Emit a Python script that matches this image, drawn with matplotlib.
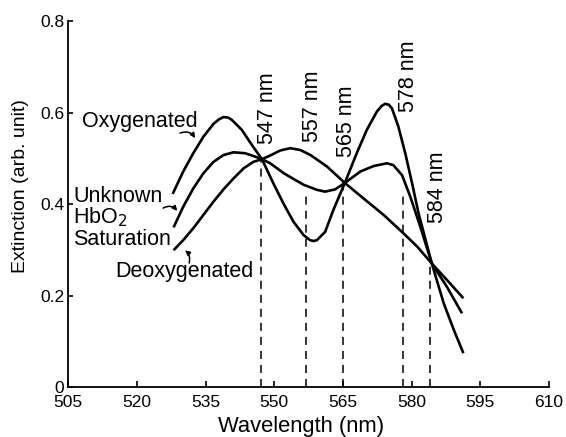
import matplotlib
matplotlib.use("Agg")
import matplotlib.pyplot as plt

plt.rcParams["font.family"] = ["Liberation Sans", "DejaVu Sans"]
plt.rcParams["lines.scale_dashes"] = False

# Absorption spectra of haemoglobin (extinction, arbitrary units)
wl_oxy = [527.8, 530.1, 532.3, 534.5, 536.7, 537.9, 538.9, 539.9, 540.7, 542.9,
          545.1, 547.3, 549.8, 552.0, 554.2, 556.4, 557.8, 558.6, 559.3, 561.1,
          562.9, 565.4, 568.0, 570.2, 572.4, 573.4, 574.2, 575.0, 575.7, 577.1,
          578.6, 580.1, 581.5, 584.4, 587.0, 589.2, 591.3]
ext_oxy = [0.422, 0.471, 0.511, 0.547, 0.575, 0.585, 0.590, 0.589, 0.584, 0.562,
           0.529, 0.498, 0.445, 0.401, 0.361, 0.332, 0.321, 0.319, 0.321, 0.339,
           0.387, 0.446, 0.511, 0.562, 0.602, 0.614, 0.619, 0.617, 0.609, 0.569,
           0.511, 0.445, 0.380, 0.270, 0.183, 0.125, 0.074]

wl_mix = [528.0, 530.1, 532.3, 534.5, 536.7, 538.9, 541.1, 543.6, 545.4, 547.3,
          549.1, 552.1, 556.4, 559.3, 561.1, 563.3, 565.4, 568.8, 571.7, 574.6,
          576.0, 577.9, 579.7, 581.9, 584.4, 587.7, 591.0]
ext_mix = [0.349, 0.394, 0.434, 0.467, 0.492, 0.507, 0.513, 0.511, 0.505, 0.498,
           0.489, 0.467, 0.442, 0.431, 0.427, 0.432, 0.446, 0.471, 0.483, 0.489,
           0.485, 0.463, 0.416, 0.350, 0.270, 0.219, 0.161]

wl_deoxy = [528.0, 530.1, 532.3, 534.5, 536.7, 538.9, 541.1, 543.3, 545.4, 547.3,
            549.1, 551.3, 553.5, 555.7, 557.9, 561.5, 565.4, 569.5, 573.9, 578.2,
            581.2, 584.4, 587.7, 591.3]
ext_deoxy = [0.299, 0.321, 0.347, 0.376, 0.405, 0.432, 0.456, 0.478, 0.492, 0.498,
             0.506, 0.517, 0.522, 0.518, 0.507, 0.482, 0.446, 0.412, 0.376, 0.336,
             0.307, 0.270, 0.234, 0.194]

# Marked wavelengths and the height where each guide line starts
marker_wl = [547, 557, 565, 578, 584]
marker_top = [0.497, 0.427, 0.446, 0.424, 0.270]
marker_labels = ["547 nm", "557 nm", "565 nm", "578 nm", "584 nm"]
marker_label_pos = [(549.8, 0.532), (559.6, 0.536), (566.9, 0.503),
                    (580.6, 0.602), (586.8, 0.358)]

x_ticks = [505, 520, 535, 550, 565, 580, 595, 610]
y_ticks = [0, 0.2, 0.4, 0.6, 0.8]
y_tick_labels = ["0", "0.2", "0.4", "0.6", "0.8"]

W, H = 566, 437
fig = plt.figure(figsize=(W / 100, H / 100), dpi=100)
ax = fig.add_axes([68.3 / W, 1 - 387 / H, (549 - 68.3) / W, (387 - 21) / H])

for wl, ext in [(wl_oxy, ext_oxy), (wl_mix, ext_mix), (wl_deoxy, ext_deoxy)]:
    ax.plot(wl, ext, color="black", lw=1.9, solid_joinstyle="round",
            solid_capstyle="butt")

for x, top in zip(marker_wl, marker_top):
    ax.plot([x, x], [0, top], color="black", lw=1.1, dashes=(5.8, 4.3))

for lab, (x, y) in zip(marker_labels, marker_label_pos):
    ax.text(x, y, lab, rotation=90, rotation_mode="anchor", ha="left",
            va="baseline", fontsize=15.5)

# Curve names
ax.text(508.0, 0.568, "Oxygenated", fontsize=15.5, ha="left", va="baseline")
ax.text(506.0, 0.404, "Unknown", fontsize=15.5, ha="left", va="baseline")
ax.text(506.0, 0.358, "HbO$_2$", fontsize=15.5, ha="left", va="baseline")
ax.text(506.0, 0.310, "Saturation", fontsize=15.5, ha="left", va="baseline")
ax.text(515.2, 0.240, "Deoxygenated", fontsize=15.5, ha="left", va="baseline")

arrow_kw = dict(arrowstyle="-|>", color="black", lw=1.1, mutation_scale=7,
                shrinkA=0, shrinkB=0)
ax.annotate("", xy=(532.7, 0.544), xytext=(529.4, 0.555),
            arrowprops=dict(connectionstyle="arc3,rad=-0.4", **arrow_kw))
ax.annotate("", xy=(528.8, 0.385), xytext=(525.7, 0.391),
            arrowprops=dict(connectionstyle="arc3,rad=-0.4", **arrow_kw))
ax.annotate("", xy=(530.5, 0.299), xytext=(531.4, 0.271),
            arrowprops=dict(connectionstyle="arc3,rad=0.3", **arrow_kw))

ax.set_xlim(505, 610)
ax.set_ylim(0, 0.8)
ax.set_xticks(x_ticks)
ax.set_yticks(y_ticks)
ax.set_yticklabels(y_tick_labels)
ax.spines["top"].set_visible(False)
ax.spines["right"].set_visible(False)
for s in ("left", "bottom"):
    ax.spines[s].set_linewidth(1.3)
ax.tick_params(axis="both", direction="in", width=1.2, labelsize=12.5)
ax.tick_params(axis="x", length=4.5, pad=5.5)
ax.tick_params(axis="y", length=3.5, pad=3)

fig.text(301 / W, 1 - 432 / H, "Wavelength (nm)", fontsize=15.8,
         ha="center", va="baseline")
fig.text(25 / W, 1 - 186 / H, "Extinction (arb. unit)", fontsize=14,
         rotation=90, rotation_mode="anchor", ha="center", va="baseline")

fig.savefig("out.png", dpi=100)
